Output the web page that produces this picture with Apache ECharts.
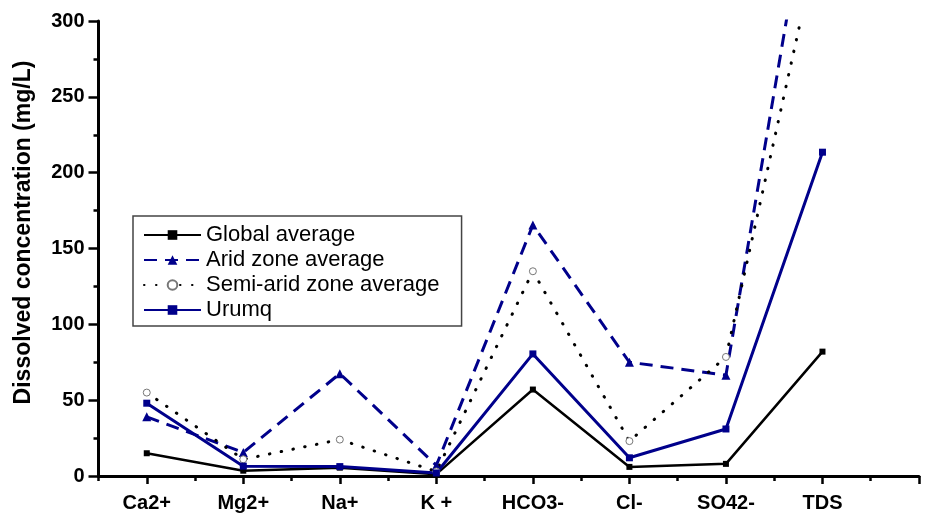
<!DOCTYPE html>
<html>
<head>
<meta charset="utf-8">
<script src="https://cdn.jsdelivr.net/npm/echarts@6/dist/echarts.min.js"></script>
<style>
html,body{margin:0;padding:0;background:#fff;}
#chart{width:927px;height:515px;}
</style>
</head>
<body>
<div id="chart"></div>
<script>
const categories = ['Ca2+', 'Mg2+', 'Na+', 'K +', 'HCO3-', 'Cl-', 'SO42-', 'TDS'];
const globalAverage = [15, 3.5, 5.5, 1.2, 57, 6, 8, 82];
const aridAverage = [39, 15.5, 67.5, 7, 165.5, 75, 66.5, 440];
const semiAridAverage = [55, 11, 24, 3, 135, 23, 78.5, 365];
const urumq = [48, 6.5, 6.2, 2, 80.5, 12, 31, 213.5];
const yTicks = [0, 50, 100, 150, 200, 250, 300];

const FONT = 'Liberation Sans, Arial, sans-serif';
const NAVY = '#00008B';
const X_MIN = 0.5, X_MAX = 9, X_STEP = 0.5;

function toPoints(arr) {
  return arr.map((v, i) => [i + 1, v]);
}
// tick positions for the overlay axis that draws the longer ticks at whole positions
const halfSteps = [];
for (let k = 0; k <= (X_MAX - X_MIN) / X_STEP; k++) halfSteps.push(String(X_MIN + k * X_STEP));

const chart = echarts.init(document.getElementById('chart'), null, {renderer: 'canvas'});
chart.setOption({
  animation: false,
  backgroundColor: '#fff',
  grid: {left: 98.5, right: 8, top: 21, bottom: 39, containLabel: false},
  legend: {
    orient: 'vertical',
    left: 133,
    top: 216,
    padding: [7, 22, 4, 10],
    itemGap: 1,
    itemWidth: 57,
    itemHeight: 12,
    borderColor: '#444',
    borderWidth: 1.5,
    textStyle: {fontFamily: FONT, fontSize: 22, color: '#000', lineHeight: 24},
    data: ['Global average', 'Arid zone average', 'Semi-arid zone average', 'Urumq']
  },
  xAxis: [{
    type: 'value',
    position: 'bottom',
    min: X_MIN,
    max: X_MAX,
    interval: X_STEP,
    splitLine: {show: false},
    axisLine: {show: true, lineStyle: {color: '#000', width: 3}},
    axisTick: {show: true, length: 5, lineStyle: {color: '#000', width: 2.5}},
    axisLabel: {
      fontFamily: FONT, fontSize: 20, fontWeight: 'bold', color: '#000', margin: 17,
      showMinLabel: true, showMaxLabel: true,
      formatter: function (v) {
        const i = Math.round(v);
        if (Math.abs(v - i) < 1e-6 && i >= 1 && i <= categories.length) return categories[i - 1];
        return '';
      }
    }
  }, {
    type: 'category',
    position: 'bottom',
    offset: 0,
    boundaryGap: false,
    data: halfSteps,
    axisLine: {show: false},
    axisLabel: {show: false},
    splitLine: {show: false},
    axisTick: {
      show: true, length: 8, lineStyle: {color: '#000', width: 2.5},
      interval: function (index) { return index % 2 === 1; }
    }
  }],
  yAxis: {
    type: 'value',
    min: yTicks[0],
    max: yTicks[yTicks.length - 1],
    interval: yTicks[1] - yTicks[0],
    name: 'Dissolved concentration (mg/L)',
    nameLocation: 'middle',
    nameGap: 63,
    nameTextStyle: {fontFamily: FONT, fontSize: 23, fontWeight: 'bold', color: '#000', padding: [0, 0, 0, 32]},
    splitLine: {show: false},
    axisLine: {show: true, lineStyle: {color: '#000', width: 3}},
    axisTick: {show: true, length: 10, lineStyle: {color: '#000', width: 2.5}},
    minorTick: {show: true, splitNumber: 2, length: 5, lineStyle: {color: '#000', width: 2.5}},
    minorSplitLine: {show: false},
    axisLabel: {fontFamily: FONT, fontSize: 20, fontWeight: 'bold', color: '#000', margin: 14}
  },
  series: [
    {
      name: 'Global average', type: 'line', data: toPoints(globalAverage), xAxisIndex: 0,
      symbol: 'rect', symbolSize: 6, clip: true,
      lineStyle: {color: '#000', width: 2.5},
      itemStyle: {color: '#000'}
    },
    {
      name: 'Arid zone average', type: 'line', data: toPoints(aridAverage), xAxisIndex: 0,
      symbol: 'triangle', symbolSize: 9, clip: true,
      lineStyle: {color: NAVY, width: 3, type: [13, 8]},
      itemStyle: {color: NAVY}
    },
    {
      name: 'Semi-arid zone average', type: 'line', data: toPoints(semiAridAverage), xAxisIndex: 0,
      symbol: 'circle', symbolSize: 7, clip: true,
      lineStyle: {color: '#000', width: 3, type: [0.5, 11.5], cap: 'round'},
      itemStyle: {color: '#fff', borderColor: '#777', borderWidth: 1}
    },
    {
      name: 'Urumq', type: 'line', data: toPoints(urumq), xAxisIndex: 0,
      symbol: 'rect', symbolSize: 7, clip: true,
      lineStyle: {color: NAVY, width: 3},
      itemStyle: {color: NAVY}
    }
  ]
});
</script>
</body>
</html>
